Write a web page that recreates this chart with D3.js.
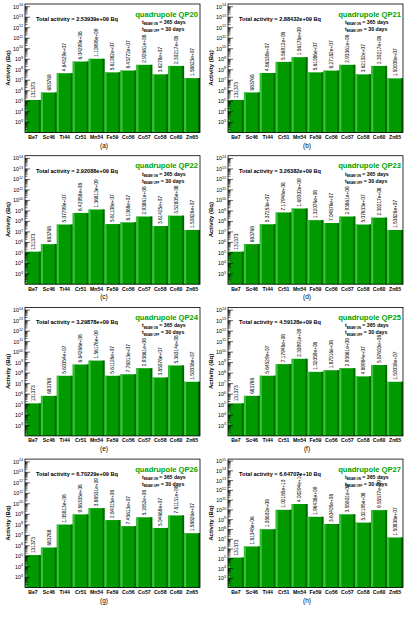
<!DOCTYPE html>
<html>
<head>
<meta charset="utf-8">
<script src="https://cdn.jsdelivr.net/npm/d3@7/dist/d3.min.js"></script>
<style>
  body { margin: 0; background: #fff; }
  svg { display: block; font-family: "Liberation Sans", Arial, sans-serif; }
</style>
</head>
<body>
<script>
// isotopes on the x axis
const isotopes = ["Be7", "Sc46", "Ti44", "Cr51", "Mn54", "Fe59", "Co56", "Co57", "Co58", "Co60", "Zn65"];

// one panel per quadrupole
const magnets = ["QP20", "QP21", "QP22", "QP23", "QP24", "QP25", "QP26", "QP27"];
const captions = ["(a)", "(b)", "(c)", "(d)", "(e)", "(f)", "(g)", "(h)"];
const totals = ["2.53939e+09", "2.88432e+09", "2.92088e+09", "3.26382e+09",
                "3.29878e+09", "4.59128e+09", "6.70229e+09", "6.64707e+10"];
const beamOn = "365";
const beamOff = "30";

// log10 range of the y axis
const yBottomExp = [2.02, 2.02, 2.02, 2.02, 2.02, 2.02, 2.02, 2.05];
const yTopExp = [14.26, 14.26, 14.26, 14.26, 14.26, 14.26, 14.26, 15.2];

// activities (Bq)
const actQP20 = [131373, 683768, 4.64329e7, 6.04299e8, 1.10998e9, 5.61082e7, 8.43772e7, 2.92661e8, 3.6278e7, 2.30217e8, 1.58823e7];
const actQP21 = [131373, 683768, 4.86339e7, 5.56912e8, 1.56176e9, 5.61086e7, 8.27182e7, 2.93361e8, 3.62102e7, 2.30217e8, 1.50038e7];
const actQP22 = [131373, 683768, 5.07799e7, 6.42958e8, 1.36813e9, 5.61108e7, 8.1068e7, 2.93861e8, 3.61425e7, 3.52805e8, 1.53826e7];
const actQP23 = [131373, 683768, 5.37253e7, 7.17948e8, 1.69302e9, 1.32076e8, 7.04876e7, 2.93861e8, 5.07633e7, 2.30217e8, 1.53826e7];
const actQP24 = [131373, 683768, 5.60054e7, 6.64268e8, 1.56176e9, 5.61128e7, 7.76013e7, 2.93861e8, 3.85076e7, 5.36314e8, 1.50038e7];
const actQP25 = [131373, 683768, 5.64529e7, 7.17948e8, 2.30991e9, 1.32059e8, 1.87016e8, 2.93861e8, 4.89984e7, 5.87603e8, 1.50038e7];
const actQP26 = [131373, 683768, 1.05813e8, 9.86335e8, 3.88531e9, 2.84015e8, 7.45613e7, 5.1852e8, 5.04668e7, 7.81131e8, 1.58826e7];
const actQP27 = [131373, 1.81348e6, 1.05602e8, 1.02185e10, 4.00294e10, 1.96438e9, 3.63405e8, 3.55801e9, 5.02195e8, 9.55577e9, 1.50838e7];
const activities = [actQP20, actQP21, actQP22, actQP23, actQP24, actQP25, actQP26, actQP27];

const width = 405;
const height = 618;
const panelW = 203;
const panelH = 151.7;

const barColor = "#009a00";
const barLight = "#33c433";
const barDark = "#006b00";
const titleColor = "#00a300";

const svg = d3.select("body").append("svg")
    .attr("width", width)
    .attr("height", height);

// ROOT like %g formatting
function fmtG(v) {
    let s = v.toPrecision(6);
    if (s.indexOf("e") < 0) return s;
    let [m, e] = s.split("e");
    if (m.indexOf(".") >= 0) m = m.replace(/0+$/, "").replace(/\.$/, "");
    let sign = e[0];
    let digits = e.slice(1);
    if (digits.length < 2) digits = "0" + digits;
    return m + "e" + sign + digits;
}

magnets.forEach((name, k) => drawPanel(k));

function drawPanel(k) {
    const px = (k % 2) * panelW;
    const py = Math.floor(k / 2) * panelH;
    const x0 = px + 25, x1 = px + 200;
    const y0 = py + 4, y1 = py + 132.5;
    const data = activities[k];

    const g = svg.append("g");

    const xScale = d3.scaleBand()
        .domain(isotopes)
        .range([x0, x1])
        .padding(0);
    const yScale = d3.scaleLog()
        .domain([Math.pow(10, yBottomExp[k]), Math.pow(10, yTopExp[k])])
        .range([y1, y0]);

    const bw = xScale.bandwidth();
    const edge = bw * 0.13;

    // bars
    const bars = g.append("g").selectAll("g")
        .data(isotopes)
        .join("g");
    bars.append("rect")
        .attr("x", d => xScale(d))
        .attr("y", (d, i) => yScale(data[i]))
        .attr("width", bw)
        .attr("height", (d, i) => y1 - yScale(data[i]))
        .attr("fill", barColor);
    bars.append("rect")
        .attr("x", d => xScale(d))
        .attr("y", (d, i) => yScale(data[i]))
        .attr("width", edge)
        .attr("height", (d, i) => y1 - yScale(data[i]))
        .attr("fill", barLight);
    bars.append("rect")
        .attr("x", d => xScale(d) + bw - edge)
        .attr("y", (d, i) => yScale(data[i]))
        .attr("width", edge)
        .attr("height", (d, i) => y1 - yScale(data[i]))
        .attr("fill", barDark);

    // value labels (rotated)
    g.append("g").selectAll("text")
        .data(isotopes)
        .join("text")
        .attr("transform", (d, i) => "translate(" + (xScale(d) + bw / 2 + 1.7) + "," + (yScale(data[i]) - 2) + ") rotate(-90)")
        .attr("font-size", 4.8)
        .attr("fill", "#000")
        .text((d, i) => fmtG(data[i]));

    // y ticks (inside the frame)
    const lo = Math.ceil(yBottomExp[k]);
    const hi = Math.floor(yTopExp[k]);
    const minor = [];
    for (let e = Math.floor(yBottomExp[k]); e <= hi; e++) {
        for (let m = 2; m <= 9; m++) {
            const v = m * Math.pow(10, e);
            if (Math.log10(v) > yBottomExp[k] && Math.log10(v) < yTopExp[k]) minor.push(v);
        }
    }
    const major = d3.range(lo, hi + 1).map(e => Math.pow(10, e));
    g.append("g").selectAll("line")
        .data(minor)
        .join("line")
        .attr("x1", x0).attr("x2", x0 + 2.5)
        .attr("y1", d => yScale(d)).attr("y2", d => yScale(d))
        .attr("stroke", "#000").attr("stroke-width", 0.6);
    g.append("g").selectAll("line")
        .data(major)
        .join("line")
        .attr("x1", x0).attr("x2", x0 + 5)
        .attr("y1", d => yScale(d)).attr("y2", d => yScale(d))
        .attr("stroke", "#000").attr("stroke-width", 0.6);

    // y tick labels 10^n, starting at 10^3
    const labelled = d3.range(3, hi + 1);
    const tl = g.append("g").selectAll("text")
        .data(labelled)
        .join("text")
        .attr("x", px + 23)
        .attr("y", e => yScale(Math.pow(10, e)) + 2)
        .attr("text-anchor", "end")
        .attr("font-size", 5.4);
    tl.append("tspan").text("10");
    tl.append("tspan")
        .attr("dy", -2.4)
        .attr("font-size", 3.7)
        .text(e => e);

    // frame
    g.append("rect")
        .attr("x", x0).attr("y", y0)
        .attr("width", x1 - x0).attr("height", y1 - y0)
        .attr("fill", "none")
        .attr("stroke", "#000")
        .attr("stroke-width", 0.8);

    // x labels
    g.append("g").selectAll("text")
        .data(isotopes)
        .join("text")
        .attr("x", d => xScale(d) + bw / 2)
        .attr("y", py + 139)
        .attr("text-anchor", "middle")
        .attr("font-size", 5.2)
        .attr("font-weight", "bold")
        .text(d => d);

    // y title
    g.append("text")
        .attr("transform", "translate(" + (px + 9.5) + "," + (py + 68) + ") rotate(-90)")
        .attr("text-anchor", "middle")
        .attr("font-size", 6)
        .attr("font-weight", "bold")
        .text("Activity (Bq)");

    // total activity
    g.append("text")
        .attr("x", px + 36)
        .attr("y", py + 21)
        .attr("font-size", 5.6)
        .attr("font-weight", "bold")
        .text("Total activity = " + totals[k] + " Bq");

    // magnet name
    g.append("text")
        .attr("x", px + 198)
        .attr("y", py + 16.5)
        .attr("text-anchor", "end")
        .attr("font-size", 7.6)
        .attr("font-weight", "bold")
        .attr("fill", titleColor)
        .text("quadrupole " + magnets[k]);

    // beam times
    [["BEAM ON", beamOn], ["BEAM OFF", beamOff]].forEach((t, j) => {
        const tx = g.append("text")
            .attr("x", px + 142)
            .attr("y", py + 24 + j * 7)
            .attr("font-size", 5.2)
            .attr("font-weight", "bold");
        tx.append("tspan").text("t");
        tx.append("tspan").attr("dy", 1.3).attr("font-size", 3).text(t[0]);
        tx.append("tspan").attr("dy", -1.3).text(" = " + t[1] + " days");
    });

    // caption
    g.append("text")
        .attr("x", px + 104)
        .attr("y", py + 147.5)
        .attr("text-anchor", "middle")
        .attr("font-size", 6.5)
        .text(captions[k]);
}
</script>
</body>
</html>
